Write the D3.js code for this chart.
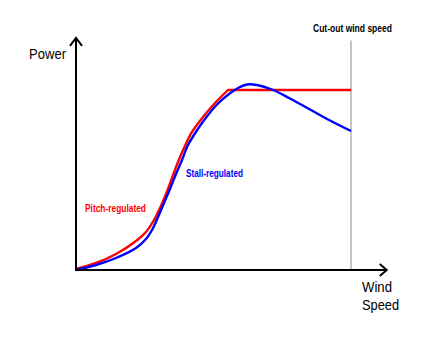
<!DOCTYPE html>
<html>
<head>
<meta charset="utf-8">
<script src="https://cdn.jsdelivr.net/npm/d3@7"></script>
<style>
  html, body { margin: 0; padding: 0; background: #fff; }
  svg { display: block; }
  text { font-family: "Liberation Sans", Arial, sans-serif; }
</style>
</head>
<body>
<svg id="chart" width="446" height="345"></svg>
<script>
// Wind speed in % of cut-out speed, power in % of rated power
const pitchWind  = [0, 7.27, 14.55, 21.82, 25.45, 28.36, 30.55, 32.73, 34.91, 37.09, 39.27, 42.18, 46.18, 50.55, 55.27, 100];
const pitchPower = [0.6, 3.89, 8.89, 16.11, 21.11, 27.78, 34.44, 42.22, 51.11, 60, 67.78, 76.67, 85, 92.78, 100, 100];

const stallWind  = [0, 7.27, 14.55, 21.82, 25.45, 27.64, 29.82, 32, 34.18, 36.36, 38.55, 40.55, 43.82, 47.45, 51.45, 55.64, 59.27, 62.18, 65.82, 71.27, 77.82, 85.09, 92.36, 100];
const stallPower = [0, 2.78, 6.67, 12.22, 17.22, 22.22, 29.44, 37.22, 45, 53.33, 61.11, 68.89, 77.22, 85, 92.22, 97.78, 101.39, 103.06, 102.78, 100.28, 95.28, 89.17, 83.06, 77.22];

const ratedIndex = 14;      // pitch curve reaches rated power here, then stays flat
const cutOutWind = 100;
const axisEndWind = 113;
const axisEndPower = 129;

const labels = {
  yTitle: "Power",
  xTitle: ["Wind", "Speed"],
  cutOut: "Cut-out wind speed",
  pitch: "Pitch-regulated",
  stall: "Stall-regulated"
};

const svg = d3.select("#chart");

const x = d3.scaleLinear().domain([0, 100]).range([76, 351]);
const y = d3.scaleLinear().domain([0, 100]).range([270, 90]);

// cut-out marker
svg.append("line")
  .attr("x1", x(cutOutWind)).attr("x2", x(cutOutWind))
  .attr("y1", y(0)).attr("y2", y(127.5))
  .attr("stroke", "#8c8c8c").attr("stroke-width", 1);

// power curves
const smooth = d3.line()
  .x(d => x(d[0]))
  .y(d => y(d[1]))
  .curve(d3.curveCatmullRom.alpha(0.5));
const straight = d3.line()
  .x(d => x(d[0]))
  .y(d => y(d[1]));

const pitch = pitchWind.map((w, i) => [w, pitchPower[i]]);
const stall = stallWind.map((w, i) => [w, stallPower[i]]);

const pitchRise = pitch.slice(0, ratedIndex + 1);
const pitchFlat = pitch.slice(ratedIndex);

const pitchPath = smooth(pitchRise) + straight(pitchFlat).replace(/^M/, "L");

svg.append("path")
  .attr("d", pitchPath)
  .attr("fill", "none").attr("stroke", "#ff0000").attr("stroke-width", 2.4)
  .attr("stroke-linejoin", "round");

svg.append("path").datum(stall)
  .attr("d", smooth)
  .attr("fill", "none").attr("stroke", "#0000ff").attr("stroke-width", 2.4)
  .attr("stroke-linejoin", "round");

// axes with open arrowheads
const ax = svg.append("g").attr("stroke", "#000").attr("stroke-width", 2).attr("fill", "none");
const x0 = x(0), y0 = y(0), xEnd = x(axisEndWind), yEnd = y(axisEndPower);
ax.append("line").attr("x1", x0).attr("y1", y0 + 1).attr("x2", x0).attr("y2", yEnd);
ax.append("line").attr("x1", x0 - 1).attr("y1", y0).attr("x2", xEnd).attr("y2", y0);
ax.append("path").attr("d", `M${x0 - 6},${yEnd + 8}L${x0},${yEnd}L${x0 + 6},${yEnd + 8}`);
ax.append("path").attr("d", `M${xEnd - 7},${y0 - 6}L${xEnd},${y0}L${xEnd - 7},${y0 + 6}`);

// text
function addText(txt, px, py, size, color, weight, width) {
  const t = svg.append("text")
    .attr("x", px).attr("y", py)
    .attr("font-size", size)
    .attr("font-weight", weight)
    .attr("fill", color)
    .text(txt);
  if (width) t.attr("textLength", width).attr("lengthAdjust", "spacingAndGlyphs");
  return t;
}

addText(labels.yTitle, 29, 59, 15, "#000", "normal", 37);
addText(labels.xTitle[0], 362, 292, 15, "#000", "normal", 30);
addText(labels.xTitle[1], 362, 310, 15, "#000", "normal", 37);
addText(labels.cutOut, 313, 32, 11, "#000", "bold", 79);
addText(labels.pitch, 85, 212, 10, "#ff0000", "bold", 61);
addText(labels.stall, 186, 177, 10, "#0000ff", "bold", 57);
</script>
</body>
</html>
